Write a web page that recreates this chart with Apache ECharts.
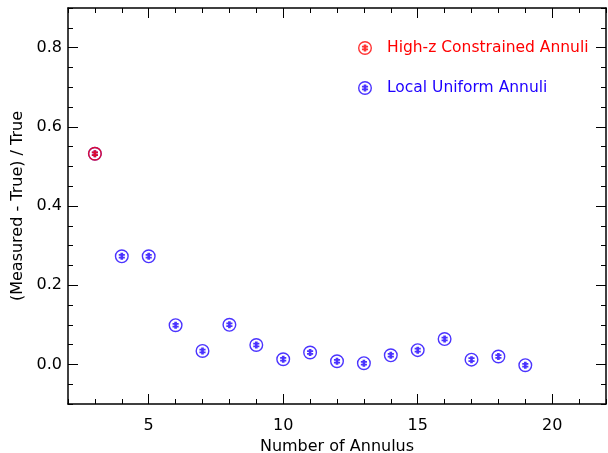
<!DOCTYPE html>
<html><head><meta charset="utf-8">
<script src="https://cdn.jsdelivr.net/npm/echarts@6/dist/echarts.min.js"></script>
<style>html,body{margin:0;padding:0;background:#fff}#c{width:608px;height:453px}</style>
</head><body><div id="c"></div>
<script>
const localX = [3,4,5,6,7,8,9,10,11,12,13,14,15,16,17,18,19];
const localY = [0.532,0.273,0.273,0.099,0.034,0.100,0.049,0.013,0.030,0.008,0.003,0.023,0.036,0.064,0.012,0.020,-0.002];
const highzX = [3];
const highzY = [0.532];
const xMajorTicks = [5,10,15,20];
const yMajorTicks = [0.0,0.2,0.4,0.6,0.8];

const SYM = 'path://M8,0 A8,8 0 1,1 8,16 A8,8 0 1,1 8,0 Z M8,1.6 A6.4,6.4 0 1,0 8,14.4 A6.4,6.4 0 1,0 8,1.6 Z ' +
  'M6.5,4 L9.5,4 L9.5,12 L6.5,12 Z M4.5,5.4 L11.5,5.4 L11.5,7.4 L4.5,7.4 Z M4.5,8.6 L11.5,8.6 L11.5,10.6 L4.5,10.6 Z';
const FONT = 'DejaVu Sans';
const BLUE = '#1e00ff';
const RED = '#ff0000';
const pair = (xs, ys) => xs.map((x, i) => [x, ys[i]]);

const lineStyle = {color:'#000', width:1.5};
function xAx(pos, majors, show) {
  return [
    {type:'value', min:2, max:22, interval:1, position:pos, gridIndex:0,
     axisLine:{show:true, onZero:false, lineStyle}, splitLine:{show:false},
     axisTick:{show:true, inside:true, length:5, lineStyle:{color:'#000',width:1}},
     axisLabel:{show:false}},
    {type:'value', min:2, max:22, position:pos, gridIndex:0,
     axisLine:{show:false, onZero:false}, splitLine:{show:false},
     axisTick:{show:true, inside:true, length:10, customValues:majors, lineStyle:{color:'#000',width:1}},
     axisLabel:{show:show, customValues:majors, margin:14, color:'#000', fontFamily:FONT, fontSize:16},
     name: show ? 'Number of Annulus' : '', nameLocation:'middle', nameGap:32,
     nameTextStyle:{color:'#000', fontFamily:FONT, fontSize:16}}
  ];
}
function yAx(pos, majors, show) {
  return [
    {type:'value', min:-0.1, max:0.9, interval:0.05, position:pos, gridIndex:0,
     axisLine:{show:true, onZero:false, lineStyle}, splitLine:{show:false},
     axisTick:{show:true, inside:true, length:5, lineStyle:{color:'#000',width:1}},
     axisLabel:{show:false}},
    {type:'value', min:-0.1, max:0.9, position:pos, gridIndex:0,
     axisLine:{show:false, onZero:false}, splitLine:{show:false},
     axisTick:{show:true, inside:true, length:10, customValues:majors, lineStyle:{color:'#000',width:1}},
     axisLabel:{show:show, customValues:majors, margin:6, color:'#000', fontFamily:FONT, fontSize:16,
                formatter: v => Number(v).toFixed(1)},
     name: show ? '(Measured - True) / True' : '', nameLocation:'middle', nameGap:34,
     nameTextStyle:{color:'#000', fontFamily:FONT, fontSize:16}}
  ];
}

const chart = echarts.init(document.getElementById('c'), null, {renderer:'canvas'});
chart.setOption({
  backgroundColor:'#fff',
  animation:false,
  grid:{left:68, right:2, top:8, bottom:49, containLabel:false, outerBoundsMode:'none'},
  xAxis:[...xAx('bottom', xMajorTicks, true), ...xAx('top', xMajorTicks, false)],
  yAxis:[...yAx('left', yMajorTicks, true), ...yAx('right', yMajorTicks, false)],
  legend:{
    orient:'vertical', left:358, top:40, itemWidth:14, itemHeight:14, itemGap:24,
    selectedMode:false, padding:0,
    data:[
      {name:'High-z Constrained Annuli', icon:SYM, itemStyle:{color:RED}, textStyle:{color:RED, fontFamily:FONT, fontSize:15.5, padding:[0,0,0,10]}},
      {name:'Local Uniform Annuli', icon:SYM, itemStyle:{color:BLUE}, textStyle:{color:BLUE, fontFamily:FONT, fontSize:15.5, padding:[0,0,0,10]}}
    ]
  },
  series:[
    {name:'Local Uniform Annuli', type:'scatter', xAxisIndex:0, yAxisIndex:0, symbol:SYM, symbolSize:14,
     itemStyle:{color:BLUE}, data:pair(localX, localY)},
    {name:'High-z Constrained Annuli', type:'scatter', xAxisIndex:0, yAxisIndex:0, symbol:SYM, symbolSize:14,
     itemStyle:{color:RED}, data:pair(highzX, highzY), z:3}
  ]
});
</script></body></html>
